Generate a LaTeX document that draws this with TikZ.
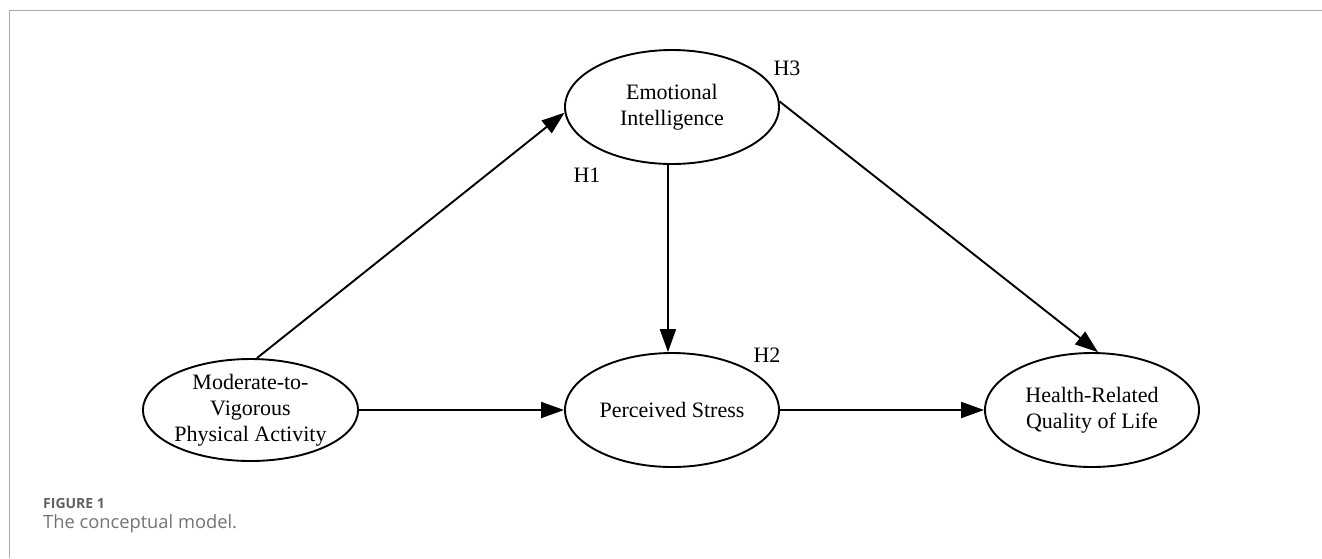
\documentclass[tikz,border=0pt]{standalone}
\usepackage{fontspec}
\setmainfont{Liberation Serif}
\newfontfamily\capfont{Open Sans}
\usetikzlibrary{shapes.geometric,arrows.meta}
\begin{document}
\begin{tikzpicture}[x=1pt,y=-1pt,
  latent/.style={draw, ellipse, line width=1.9pt, minimum width=214pt, minimum height=114pt,
    inner sep=0pt, align=center, font=\fontsize{22}{26}\selectfont},
  pathedge/.style={line width=1.9pt, -{Triangle[length=23pt,width=16pt]}},
  hyp/.style={font=\fontsize{22}{26}\selectfont, inner sep=0pt},
  frameline/.style={draw=black!33, line width=1.5pt}]
\useasboundingbox (0,0) rectangle (1322,558);
\draw[frameline] (9.5,558) -- (9.5,10.5) -- (1322,10.5);

\node[latent] (e) at (672,107) {Emotional\\Intelligence};
\node[latent, minimum width=215pt, minimum height=102pt] (m) at (250.5,410) {Moderate-to-\\Vigorous\\Physical Activity};
\node[latent] (p) at (672,410) {Perceived Stress};
\node[latent] (h) at (1092,410) {Health-Related\\Quality of Life};

\draw[pathedge] (m.83) -- (e.183);
\draw[pathedge] (e.266) -- (p.94);
\draw[pathedge] (e.3) -- (h.84);
\draw[pathedge] (m.east) -- (p.west);
\draw[pathedge] (p.east) -- (h.west);

\node[hyp] (h1) at (587,175) {H1};
\node[hyp] (h2) at (767,355) {H2};
\node[hyp] (h3) at (787,68) {H3};

\node[anchor=base west, inner sep=0pt, text=black!62,
  font=\capfont\bfseries\fontsize{14}{16}\selectfont] (fig) at (43,508) {FIGURE 1};
\node[anchor=base west, inner sep=0pt, text=black!55,
  font=\capfont\fontsize{18.3}{21}\selectfont] (cap) at (43,528) {The conceptual model.};
\end{tikzpicture}
\end{document}
